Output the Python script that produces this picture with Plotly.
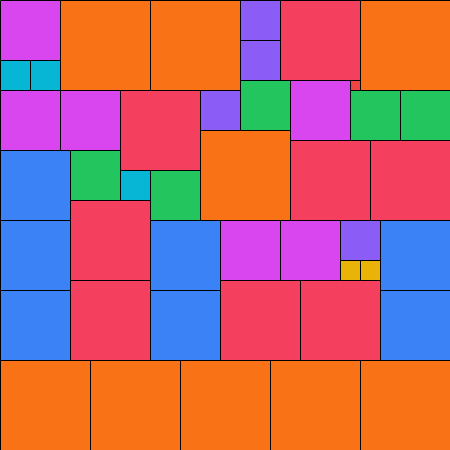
import plotly.graph_objects as go

# Partridge packing: squares of side n (n copies each), positions in grid units (top-left corner)
sides = [9, 9, 9, 9, 9, 9, 9, 9, 9,
         8, 8, 8, 8, 8, 8, 8, 8,
         7, 7, 7, 7, 7, 7, 7,
         6, 6, 6, 6, 6, 6,
         5, 5, 5, 5, 5,
         4, 4, 4, 4,
         3, 3, 3,
         2, 2,
         1]
xs = [6, 15, 36, 20, 0, 9, 18, 27, 36,
      12, 28, 29, 37, 7, 7, 22, 30,
      0, 0, 0, 15, 15, 38, 38,
      0, 0, 6, 29, 22, 28,
      7, 15, 24, 35, 40,
      24, 24, 20, 34,
      0, 3, 12,
      34, 36,
      35]
ys = [0, 0, 0, 13, 36, 36, 36, 36, 36,
      9, 0, 14, 14, 20, 28, 28, 28,
      15, 22, 29, 22, 29, 22, 29,
      0, 9, 9, 8, 22, 22,
      15, 17, 8, 9, 9,
      0, 4, 9, 22,
      6, 6, 17,
      26, 26,
      8]
size_colors = {9: "#f97316", 8: "#f43f5e", 7: "#3b82f6", 6: "#d946ef", 5: "#22c55e",
               4: "#8b5cf6", 3: "#06b6d4", 2: "#eab308", 1: "#ef4444"}

fig = go.Figure()
for s, x, y in zip(sides, xs, ys):
    fig.add_trace(go.Scatter(
        x=[x, x + s, x + s, x, x],
        y=[y, y, y + s, y + s, y],
        mode="lines",
        fill="toself",
        fillcolor=size_colors[s],
        line=dict(color="#000000", width=1),
        hoverinfo="skip",
        showlegend=False,
    ))

total = 45
half_px = 0.05  # half a pixel in grid units, so 1px borders land on whole pixels
fig.update_layout(
    width=450, height=450,
    margin=dict(l=0, r=0, t=0, b=0),
    paper_bgcolor="white", plot_bgcolor="white",
    xaxis=dict(range=[-half_px, total - half_px], visible=False, fixedrange=True),
    yaxis=dict(range=[total - half_px, -half_px], visible=False, fixedrange=True),
    showlegend=False,
)
fig.write_html("out.html", config={"displayModeBar": False, "staticPlot": True},
               post_script="document.body.style.margin='0';document.body.style.padding='0';")
